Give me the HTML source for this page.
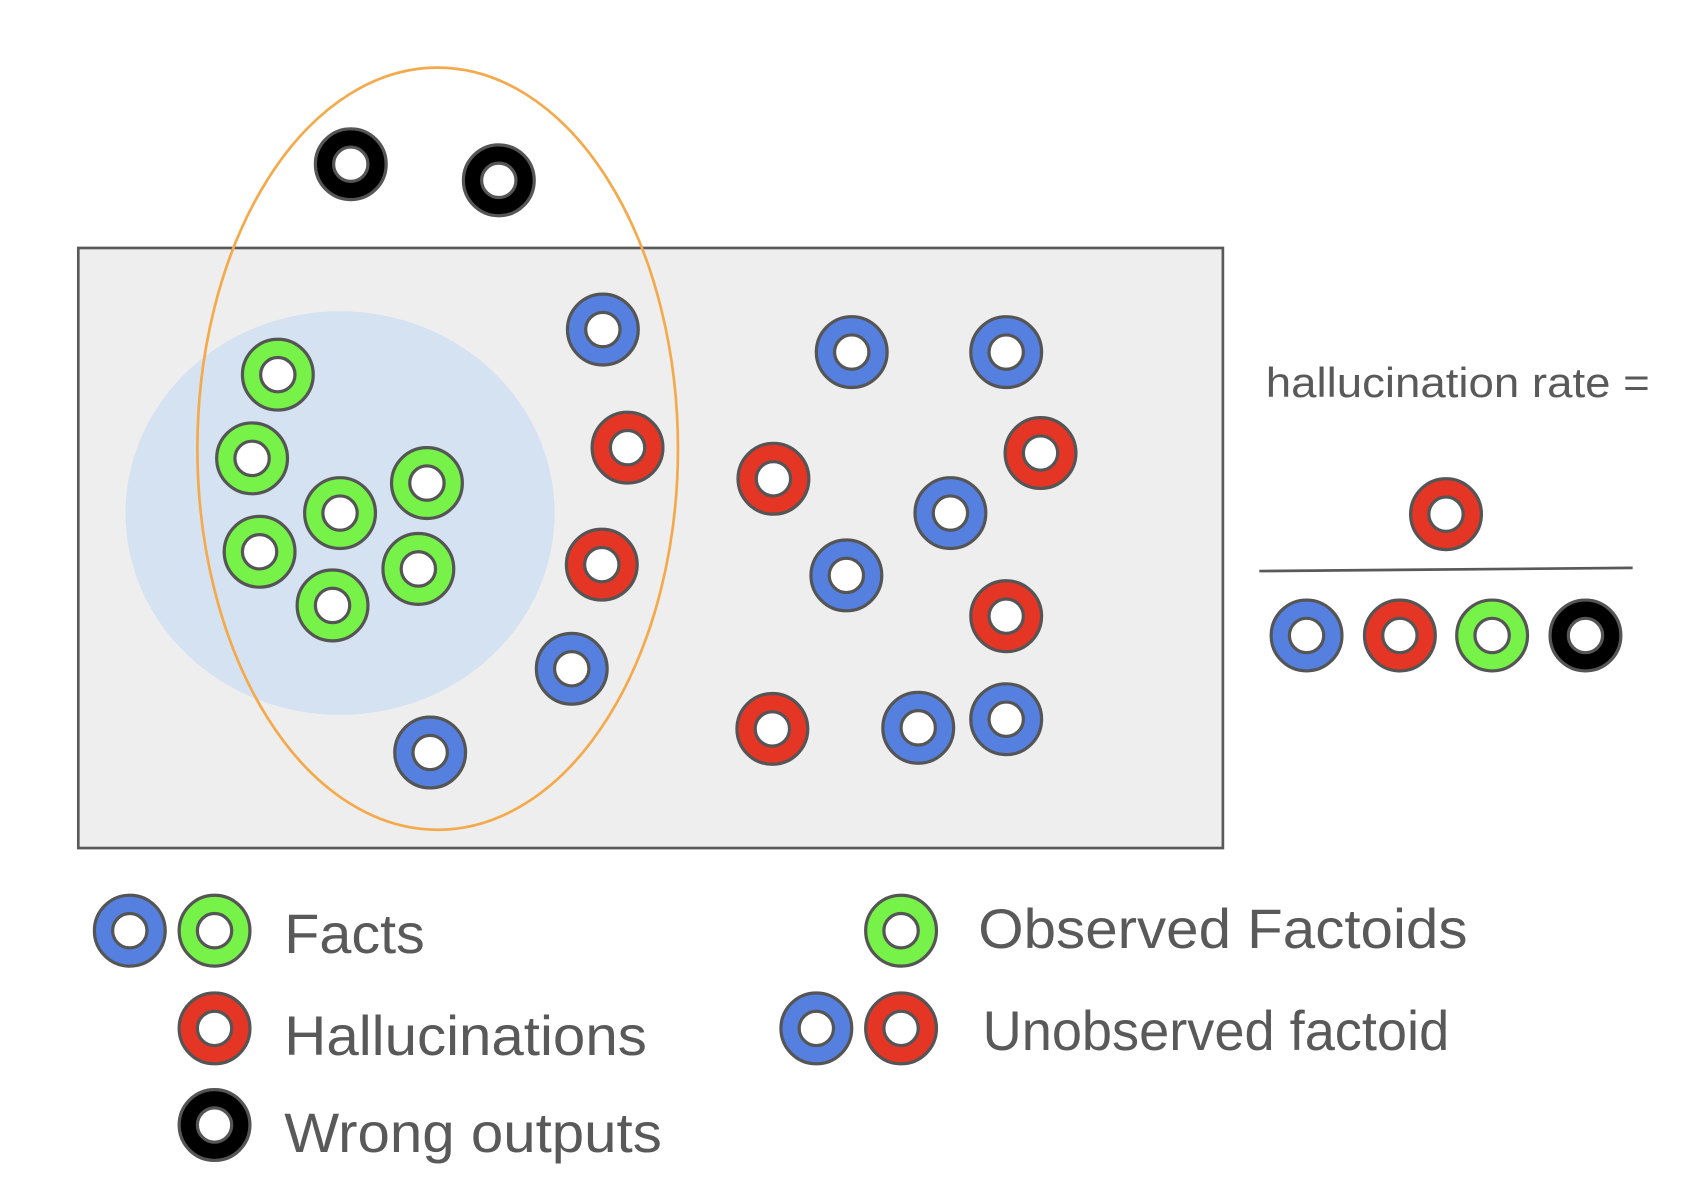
<!DOCTYPE html>
<html><head><meta charset="utf-8"><style>
html,body{margin:0;padding:0;background:#fff}
svg{display:block}
text{font-family:"Liberation Sans",sans-serif;fill:#595959}
</style></head><body>
<svg id="chart" width="1682" height="1198" viewBox="0 0 1568 1116" preserveAspectRatio="none" xmlns="http://www.w3.org/2000/svg">
<rect x="73" y="231" width="1067" height="559" fill="#eeeeee" stroke="#595959" stroke-width="2.5"/>
<ellipse cx="317" cy="478" rx="200" ry="188" fill="#d5e2f1"/>
<ellipse cx="408" cy="418" rx="224" ry="355" fill="none" stroke="#f4a94a" stroke-width="2.5"/>
<line x1="1174" y1="532" x2="1522" y2="529" stroke="#595959" stroke-width="2.5"/>
<text x="1180" y="370" font-size="39" textLength="358" lengthAdjust="spacingAndGlyphs">hallucination rate =</text>
<text x="265" y="888" font-size="52" textLength="131" lengthAdjust="spacingAndGlyphs">Facts</text>
<text x="265" y="983" font-size="52" textLength="338" lengthAdjust="spacingAndGlyphs">Hallucinations</text>
<text x="265" y="1073" font-size="52" textLength="352" lengthAdjust="spacingAndGlyphs">Wrong outputs</text>
<text x="912" y="883" font-size="52" textLength="456" lengthAdjust="spacingAndGlyphs">Observed Factoids</text>
<text x="916" y="978" font-size="52" textLength="435" lengthAdjust="spacingAndGlyphs">Unobserved factoid</text>
<g id="rings"></g>
</svg>
<script>
const ringKinds = ["black","black","green","green","green","green","green","green","green","blue","blue","blue","blue","blue","blue","blue","blue","blue","red","red","red","red","red","red","red","blue","red","green","black","blue","green","red","black","green","blue","red"];
const ringX = [327,465,259,235,317,398,242,390,310,562,533,401,794,938,886,789,856,938,585,561,721,970,938,720,1348,1218,1305,1391,1478,121,200,200,200,840,761,840];
const ringY = [153,168,349,427,478,450,514,530,564,307,623,701,328,328,478,536,678,670,417,526,446,422,574,679,479,592,592,592,592,867,867,958,1048,867,958,958];
const colors = {blue:"#5580e0",green:"#77f248",red:"#e53525",black:"#000000"};
const g = document.getElementById('rings');
const NS = "http://www.w3.org/2000/svg";
for (let i=0;i<ringKinds.length;i++){
  const grp = document.createElementNS(NS,'g');
  
  
  const outer = document.createElementNS(NS,'circle');
  outer.setAttribute('cx',ringX[i]);outer.setAttribute('cy',ringY[i]);outer.setAttribute('r',33);
  outer.setAttribute('fill',colors[ringKinds[i]]);outer.setAttribute('stroke','#555');outer.setAttribute('stroke-width',3);
  const inner = document.createElementNS(NS,'circle');
  inner.setAttribute('cx',ringX[i]);inner.setAttribute('cy',ringY[i]);inner.setAttribute('r',16);
  inner.setAttribute('fill','#fff');inner.setAttribute('stroke','#555');inner.setAttribute('stroke-width',3);
  grp.appendChild(outer);grp.appendChild(inner);g.appendChild(grp);
}
</script>
</body></html>
